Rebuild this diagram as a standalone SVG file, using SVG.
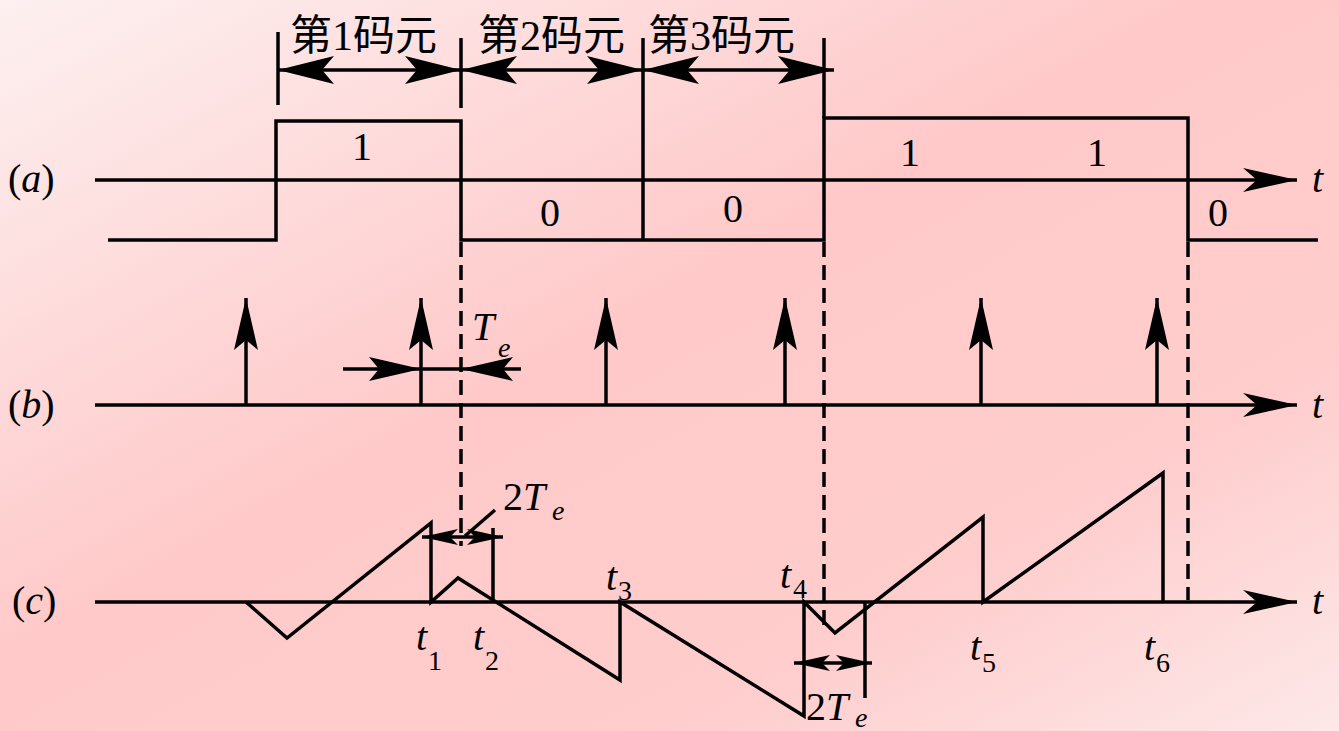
<svg xmlns="http://www.w3.org/2000/svg" width="1339" height="731" viewBox="0 0 1339 731">
<defs>
<linearGradient id="bg" x1="0" y1="0" x2="1" y2="1">
<stop offset="0" stop-color="#fdf0f0"/>
<stop offset="0.45" stop-color="#ffc9c9"/>
<stop offset="0.75" stop-color="#ffcdcd"/>
<stop offset="1" stop-color="#fde8e8"/>
</linearGradient>
<marker id="ax" markerUnits="userSpaceOnUse" viewBox="-56 -14 58 28" refX="0" refY="0" markerWidth="58" markerHeight="28" orient="auto-start-reverse">
<path d="M0,0 L-54,-12 L-40,0 L-54,12 Z" fill="#000"/>
</marker>
<marker id="code" markerUnits="userSpaceOnUse" viewBox="-60 -16 62 32" refX="0" refY="0" markerWidth="62" markerHeight="32" orient="auto-start-reverse">
<path d="M0,0 L-56,-14 L-44,0 L-56,14 Z" fill="#000"/>
</marker>
<marker id="imp" markerUnits="userSpaceOnUse" viewBox="-56 -14 58 28" refX="0" refY="0" markerWidth="58" markerHeight="28" orient="auto-start-reverse">
<path d="M0,0 L-52,-12 L-42,0 L-52,12 Z" fill="#000"/>
</marker>
<marker id="sm" markerUnits="userSpaceOnUse" viewBox="-40 -10 42 20" refX="0" refY="0" markerWidth="42" markerHeight="20" orient="auto-start-reverse">
<path d="M0,0 L-36,-8 L-28,0 L-36,8 Z" fill="#000"/>
</marker>
</defs>
<style>
.ln{stroke:#000;stroke-width:3.5;fill:none}
.ds{stroke:#000;stroke-width:3.5;fill:none;stroke-dasharray:15 8}
.ser{font-family:"Liberation Serif","Noto Sans CJK SC",serif;fill:#000}
.it{font-style:italic}
</style>
<rect x="0" y="0" width="1339" height="731" fill="url(#bg)"/>

<g id="labels">
<text class="ser" x="8" y="192" font-size="40">(<tspan class="it">a</tspan>)</text>
<text class="ser" x="8" y="418" font-size="40">(<tspan class="it">b</tspan>)</text>
<text class="ser" x="12" y="614" font-size="40">(<tspan class="it">c</tspan>)</text>
<text class="ser it" x="1312" y="192" font-size="40">t</text>
<text class="ser it" x="1312" y="418" font-size="40">t</text>
<text class="ser it" x="1312" y="614" font-size="40">t</text>
</g>

<g id="code-elements">
<text class="ser" x="290" y="50" font-size="42">第1码元</text>
<text class="ser" x="478" y="50" font-size="42">第2码元</text>
<text class="ser" x="648" y="50" font-size="42">第3码元</text>
<line class="ln" x1="278" y1="32" x2="278" y2="105"/>
<line class="ln" x1="461" y1="38" x2="461" y2="108"/>
<line class="ln" x1="643" y1="38" x2="643" y2="240"/>
<line class="ln" x1="824" y1="38" x2="824" y2="118"/>
</g>

<g id="waveform-a">
<polyline class="ln" points="108,240 276,240 276,121 461,121 461,240 824,240 824,118 1188,118 1188,240 1318,240"/>
<text class="ser" x="352" y="160" font-size="40">1</text>
<text class="ser" x="540" y="226" font-size="40">0</text>
<text class="ser" x="723" y="222" font-size="40">0</text>
<text class="ser" x="900" y="166" font-size="40">1</text>
<text class="ser" x="1087" y="166" font-size="40">1</text>
<text class="ser" x="1208" y="226" font-size="40">0</text>
</g>

<g id="waveform-c">
<polyline class="ln" points="246,602 287,638 431,523 431,602 458,578 620,680 620,602 804,716 804,602 835,633 983,517 983,602 1163,473 1163,602"/>
<line class="ln" x1="493" y1="528" x2="493" y2="602"/>
<line class="ln" x1="865" y1="602" x2="865" y2="698"/>
<text class="ser it" x="416" y="650" font-size="40">t</text><text class="ser" x="428" y="670" font-size="28">1</text>
<text class="ser it" x="473" y="650" font-size="40">t</text><text class="ser" x="485" y="670" font-size="28">2</text>
<text class="ser it" x="606" y="590" font-size="40">t</text><text class="ser" x="618" y="600" font-size="28">3</text>
<text class="ser it" x="780" y="588" font-size="40">t</text><text class="ser" x="793" y="598" font-size="28">4</text>
<text class="ser it" x="970" y="660" font-size="40">t</text><text class="ser" x="982" y="672" font-size="28">5</text>
<text class="ser it" x="1144" y="660" font-size="40">t</text><text class="ser" x="1156" y="672" font-size="28">6</text>
<text class="ser it" x="472" y="340" font-size="40">T</text><text class="ser it" x="498" y="357" font-size="28">e</text>
<text class="ser" x="503" y="510" font-size="40">2<tspan class="it">T</tspan></text><text class="ser it" x="552" y="520" font-size="28">e</text>
<text class="ser" x="806" y="720" font-size="40">2<tspan class="it">T</tspan></text><text class="ser it" x="855" y="727" font-size="28">e</text>
</g>

<g id="connectors">
<line class="ln" x1="95" y1="180" x2="1297" y2="180" marker-end="url(#ax)"/>
<line class="ln" x1="95" y1="405" x2="1297" y2="405" marker-end="url(#ax)"/>
<line class="ln" x1="95" y1="602" x2="1297" y2="602" marker-end="url(#ax)"/>
<line class="ln" x1="278" y1="70" x2="461" y2="70" marker-start="url(#code)" marker-end="url(#code)"/>
<line class="ln" x1="461" y1="70" x2="643" y2="70" marker-start="url(#code)" marker-end="url(#code)"/>
<line class="ln" x1="643" y1="70" x2="834" y2="70" marker-start="url(#code)" marker-end="url(#code)"/>
<line class="ln" x1="246" y1="405" x2="246" y2="298" marker-end="url(#imp)"/>
<line class="ln" x1="421" y1="405" x2="421" y2="298" marker-end="url(#imp)"/>
<line class="ln" x1="606" y1="405" x2="606" y2="298" marker-end="url(#imp)"/>
<line class="ln" x1="785" y1="405" x2="785" y2="298" marker-end="url(#imp)"/>
<line class="ln" x1="981" y1="405" x2="981" y2="298" marker-end="url(#imp)"/>
<line class="ln" x1="1157" y1="405" x2="1157" y2="298" marker-end="url(#imp)"/>
<line class="ln" x1="343" y1="369" x2="421" y2="369" marker-end="url(#imp)"/>
<line class="ln" x1="521" y1="369" x2="461" y2="369" marker-end="url(#imp)"/>
<line class="ln" x1="421" y1="369" x2="461" y2="369"/>
<line class="ds" x1="461" y1="242" x2="461" y2="546"/>
<line class="ds" x1="824" y1="242" x2="824" y2="630"/>
<line class="ds" x1="1188" y1="242" x2="1188" y2="600"/>
<line class="ln" x1="461" y1="537" x2="422" y2="537" marker-end="url(#sm)"/>
<line class="ln" x1="461" y1="537" x2="503" y2="537" marker-end="url(#sm)"/>
<line class="ln" x1="465" y1="536" x2="495" y2="510"/>
<line class="ln" x1="834" y1="663" x2="794" y2="663" marker-end="url(#sm)"/>
<line class="ln" x1="834" y1="663" x2="872" y2="663" marker-end="url(#sm)"/>
</g>
</svg>
